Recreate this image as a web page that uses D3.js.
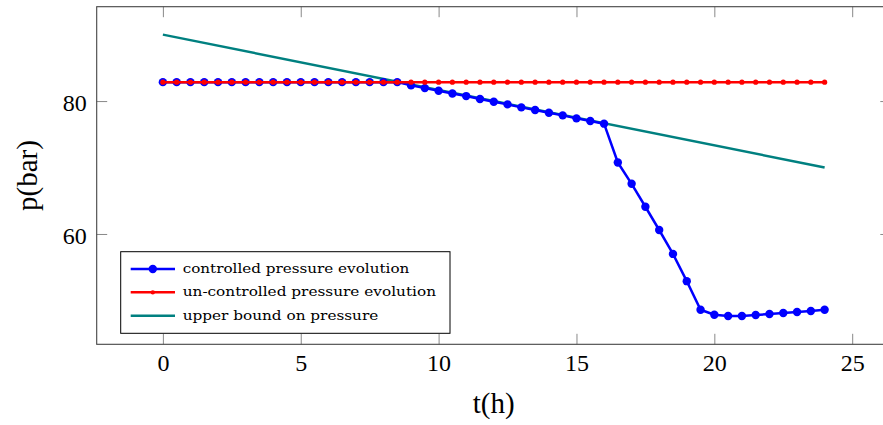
<!DOCTYPE html>
<html lang="en">
<head>
<meta charset="UTF-8">
<title>Pressure evolution</title>
<script src="https://d3js.org/d3.v7.min.js"></script>
<style>
    body { margin: 0; background: #fff; }
    text { font-family: 'Liberation Serif', 'DejaVu Serif', serif; fill: #000; }
    .tick line { stroke: #888; stroke-width: 1; }
    .tick text { font-size: 24px; font-family: 'Liberation Serif', serif; }
    .legend text { font-size: 12.5px; font-family: 'DejaVu Serif', serif; }
</style>
</head>
<body>
<svg id="chart"></svg>
<script>
// time steps (h), every half hour from 0 to 24
const hours = [0, 0.5, 1, 1.5, 2, 2.5, 3, 3.5, 4, 4.5, 5, 5.5, 6, 6.5, 7, 7.5, 8, 8.5,
    9, 9.5, 10, 10.5, 11, 11.5, 12, 12.5, 13, 13.5, 14, 14.5, 15, 15.5, 16,
    16.5, 17, 17.5, 18, 18.5, 19, 19.5, 20, 20.5, 21, 21.5, 22, 22.5, 23, 23.5, 24];

// controlled pressure (bar)
const controlled = [82.85, 82.85, 82.85, 82.85, 82.85, 82.85, 82.85, 82.85, 82.85,
    82.85, 82.85, 82.85, 82.85, 82.85, 82.85, 82.85, 82.85, 82.85,
    82.36, 81.95, 81.55, 81.15, 80.75, 80.3, 79.9, 79.5, 79.05, 78.65, 78.25,
    77.85, 77.4, 77.0, 76.6,
    70.75, 67.55, 64.1, 60.6, 57.0, 52.9, 48.6, 47.85, 47.65, 47.65, 47.8,
    47.95, 48.1, 48.25, 48.4, 48.6];

// un-controlled pressure (bar)
const uncontrolled = [82.85, 82.85, 82.85, 82.85, 82.85, 82.85, 82.85, 82.85, 82.85,
    82.85, 82.85, 82.85, 82.85, 82.85, 82.85, 82.85, 82.85, 82.85,
    82.85, 82.85, 82.85, 82.85, 82.85, 82.85, 82.85, 82.85, 82.85, 82.85, 82.85,
    82.85, 82.85, 82.85, 82.85,
    82.85, 82.85, 82.85, 82.85, 82.85, 82.85, 82.85, 82.85, 82.85, 82.85, 82.85,
    82.85, 82.85, 82.85, 82.85, 82.85];

// upper bound on pressure
const boundHours = [0, 24];
const boundValues = [90, 70];

const xTicks = [0, 5, 10, 15, 20, 25];
const yTicks = [60, 80];

const legendLabels = ["controlled pressure evolution", "un-controlled pressure evolution", "upper bound on pressure"];

const width = 883, height = 425;
const svg = d3.select("#chart").attr("width", width).attr("height", height);

// axis box (right side runs past the picture edge)
const boxLeft = 96.7, boxRight = 890.8, boxTop = 6.7, boxBottom = 344.3;

const x = d3.scaleLinear().domain([-2.4, 26.4]).range([boxLeft, boxRight]);
const y = d3.scaleLinear().domain([43.4, 94.2]).range([boxBottom, boxTop]);

const tickLen = 10.5;

// bottom axis with labels
svg.append("g")
    .attr("transform", `translate(0,${boxBottom})`)
    .call(d3.axisBottom(x).tickValues(xTicks).tickSize(-tickLen).tickPadding(10))
    .call(g => g.select(".domain").remove())
    .selectAll("text").attr("dy", "0.71em");

// left axis with labels
svg.append("g")
    .attr("transform", `translate(${boxLeft},0)`)
    .call(d3.axisLeft(y).tickValues(yTicks).tickSize(-tickLen).tickPadding(10))
    .call(g => g.select(".domain").remove())
    .selectAll("text").attr("dy", "0.4em");

// mirrored ticks
svg.append("g")
    .attr("transform", `translate(0,${boxTop})`)
    .call(d3.axisTop(x).tickValues(xTicks).tickSize(-tickLen).tickFormat(""))
    .call(g => g.select(".domain").remove());
svg.append("g")
    .attr("transform", `translate(${boxRight},0)`)
    .call(d3.axisRight(y).tickValues(yTicks).tickSize(-tickLen).tickFormat(""))
    .call(g => g.select(".domain").remove());

// frame
svg.append("rect")
    .attr("x", boxLeft).attr("y", boxTop)
    .attr("width", boxRight - boxLeft).attr("height", boxBottom - boxTop)
    .attr("fill", "none").attr("stroke", "#444").attr("stroke-width", 1.1);

// axis labels
svg.append("text")
    .attr("x", (boxLeft + boxRight) / 2).attr("y", 413)
    .attr("text-anchor", "middle").attr("font-size", 29)
    .text("t(h)");
svg.append("text")
    .attr("transform", `translate(37,${(boxTop + boxBottom) / 2}) rotate(-90)`)
    .attr("text-anchor", "middle").attr("font-size", 29)
    .text("p(bar)");

const line = d3.line().x(d => x(d[0])).y(d => y(d[1]));

const boundData = d3.zip(boundHours, boundValues);
const ctrlData = d3.zip(hours, controlled);
const unctrlData = d3.zip(hours, uncontrolled);

const plot = svg.append("g");

// upper bound
plot.append("path").datum(boundData)
    .attr("d", line).attr("fill", "none")
    .attr("stroke", "#008080").attr("stroke-width", 2.5);

// controlled
plot.append("path").datum(ctrlData)
    .attr("d", line).attr("fill", "none")
    .attr("stroke", "#0000ff").attr("stroke-width", 2.5).attr("stroke-linejoin", "round");
plot.append("g").selectAll("circle").data(ctrlData).join("circle")
    .attr("cx", d => x(d[0])).attr("cy", d => y(d[1]))
    .attr("r", 4.2).attr("fill", "#0000ff");

// un-controlled
plot.append("path").datum(unctrlData)
    .attr("d", line).attr("fill", "none")
    .attr("stroke", "#ff0000").attr("stroke-width", 2.5);
plot.append("g").selectAll("circle").data(unctrlData).join("circle")
    .attr("cx", d => x(d[0])).attr("cy", d => y(d[1]))
    .attr("r", 2.6).attr("fill", "#ff0000");

// legend
const legend = svg.append("g").attr("class", "legend");
legend.append("rect")
    .attr("x", 120.7).attr("y", 251.7).attr("width", 329.3).attr("height", 81.6)
    .attr("fill", "#fff").attr("stroke", "#000").attr("stroke-width", 1);

const legendColors = ["#0000ff", "#ff0000", "#008080"];
const markerR = [4.2, 2.2, 0];
const textWidths = [226.6, 253.3, 195.6];
const rowY = d3.scalePoint().domain(legendLabels).range([269, 315.7]);

legendLabels.forEach((lab, i) => {
    const yy = rowY(lab);
    legend.append("line")
        .attr("x1", 130.7).attr("x2", 175).attr("y1", yy).attr("y2", yy)
        .attr("stroke", legendColors[i]).attr("stroke-width", 2.5);
    if (markerR[i] > 0) {
        legend.append("circle").attr("cx", 152.8).attr("cy", yy)
            .attr("r", markerR[i]).attr("fill", legendColors[i]);
    }
    legend.append("text")
        .attr("x", 182.7).attr("y", yy + 4)
        .attr("textLength", textWidths[i]).attr("lengthAdjust", "spacingAndGlyphs")
        .text(lab);
});
</script>
</body>
</html>
